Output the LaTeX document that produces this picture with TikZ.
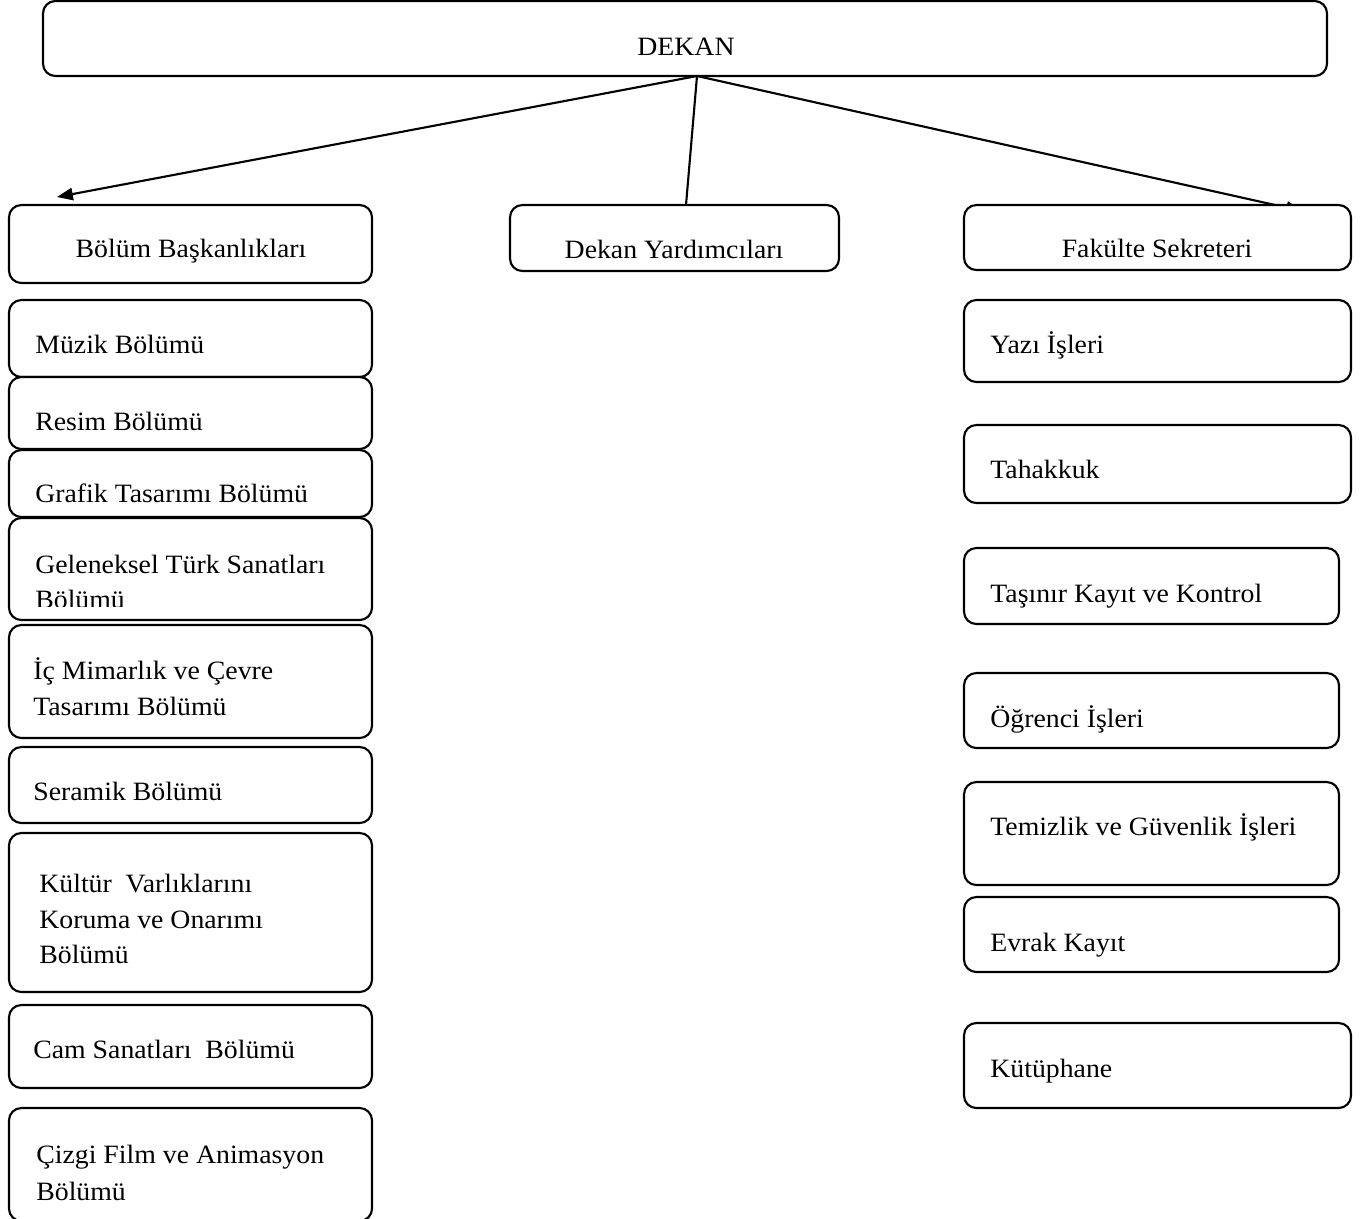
\documentclass[tikz,border=0pt]{standalone}
\usepackage{fontspec}
\setmainfont[FakeStretch=1.05]{Liberation Serif}
\usetikzlibrary{arrows.meta}
\newcommand\obox[5]{\node[box, minimum width={(#4-(#2))*0.567pt}, minimum height={(#5-(#3))*0.567pt}] (#1) at ({(#2+#4)/2},{(#3+#5)/2}) {};}
\begin{document}
\begin{tikzpicture}[x=0.567pt,y=-0.567pt,
  box/.style={draw, line width=1.2pt, rounded corners=7pt, fill=white, inner sep=0pt},
  lbl/.style={inner sep=0pt, anchor=base west, font=\fontsize{15pt}{18pt}\selectfont},
  clbl/.style={inner sep=0pt, anchor=base, font=\fontsize{15pt}{18pt}\selectfont},
  link/.style={line width=1.2pt},
  tip/.style={-{Triangle[length=9pt,width=7pt]}}]
\useasboundingbox (0,0) rectangle (1364,1218);
% top
\obox{dekan}{43}{1}{1327}{76}
\node[clbl] (dekan-t) at (686,55) {DEKAN};
\coordinate (dk) at (697,76);
\coordinate (bbtip) at (57,197);
\coordinate (fstip) at (1302,211);
\coordinate (dyend) at (686,205);
% connectors (drawn under boxes)
\draw[link,tip] (dk) -- (bbtip);
\draw[link] (dk) -- (dyend);
\draw[link,tip] (dk) -- (fstip);
% second row
\obox{bolum}{9}{205}{372}{283}
\node[clbl] (bolum-t) at (191,257) {Bölüm Başkanlıkları};
\obox{yard}{510}{205}{839}{271}
\node[clbl] (yard-t) at (674,258) {Dekan Yardımcıları};
\obox{fak}{964}{205}{1351}{270}
\node[clbl] (fak-t) at (1157,257) {Fakülte Sekreteri};
% left column
\obox{muzik}{9}{300}{372}{377}
\node[lbl] (muzik-t) at (35,353) {Müzik Bölümü};
\obox{resim}{9}{377}{372}{449}
\node[lbl] (resim-t) at (35,430) {Resim Bölümü};
\obox{grafik}{9}{450}{372}{517}
\node[lbl] (grafik-t) at (35,502) {Grafik Tasarımı Bölümü};
\obox{gelen}{9}{518}{372}{620}
\begin{scope}
\clip (10,518) rectangle (371,606);
\node[lbl] (gelen-t1) at (35,573) {Geleneksel Türk Sanatları};
\node[lbl] (gelen-t2) at (35,608) {Bölümü};
\end{scope}
\obox{icmim}{9}{625}{372}{738}
\node[lbl] (icmim-t1) at (33,679) {İç Mimarlık ve Çevre};
\node[lbl] (icmim-t2) at (33,715) {Tasarımı Bölümü};
\obox{seramik}{9}{747}{372}{823}
\node[lbl] (seramik-t) at (33,800) {Seramik Bölümü};
\obox{kultur}{9}{833}{372}{992}
\node[lbl] (kultur-t1) at (39,892) {Kültür\ \ Varlıklarını};
\node[lbl] (kultur-t2) at (39,928) {Koruma ve Onarımı};
\node[lbl] (kultur-t3) at (39,963) {Bölümü};
\obox{cam}{9}{1005}{372}{1088}
\node[lbl] (cam-t) at (33,1058) {Cam Sanatları\ \ Bölümü};
\obox{cizgi}{9}{1108}{372}{1221}
\node[lbl] (cizgi-t1) at (36,1163) {Çizgi Film ve Animasyon};
\node[lbl] (cizgi-t2) at (36,1200) {Bölümü};
% right column
\obox{yazi}{964}{300}{1351}{382}
\node[lbl] (yazi-t) at (990,353) {Yazı İşleri};
\obox{tahak}{964}{425}{1351}{503}
\node[lbl] (tahak-t) at (990,478) {Tahakkuk};
\obox{tasinir}{964}{548}{1339}{624}
\node[lbl] (tasinir-t) at (990,602) {Taşınır Kayıt ve Kontrol};
\obox{ogrenci}{964}{673}{1339}{748}
\node[lbl] (ogrenci-t) at (990,727) {Öğrenci İşleri};
\obox{temiz}{964}{782}{1339}{885}
\node[lbl] (temiz-t) at (990,835) {Temizlik ve Güvenlik İşleri};
\obox{evrak}{964}{897}{1339}{972}
\node[lbl] (evrak-t) at (990,951) {Evrak Kayıt};
\obox{kutup}{964}{1023}{1351}{1108}
\node[lbl] (kutup-t) at (990,1077) {Kütüphane};
\end{tikzpicture}
\end{document}
